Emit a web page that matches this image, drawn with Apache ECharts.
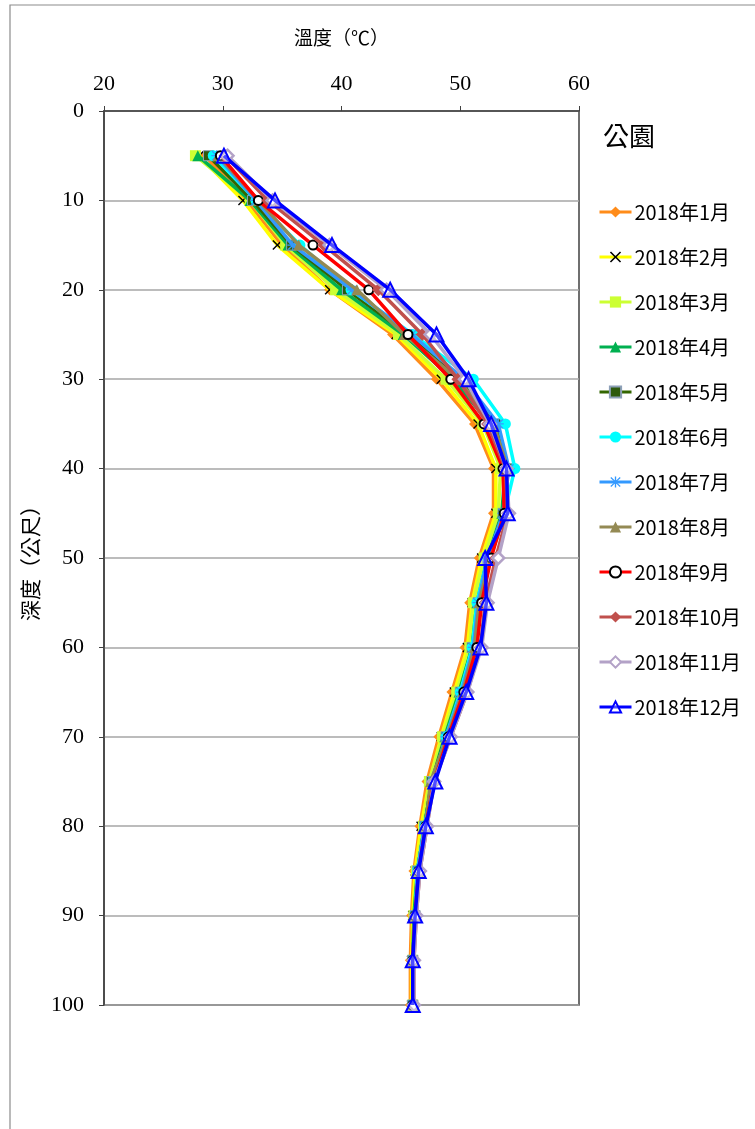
<!DOCTYPE html>
<html><head><meta charset="utf-8">
<script src="https://cdn.jsdelivr.net/npm/echarts@6/dist/echarts.min.js"></script>
<style>html,body{margin:0;padding:0;background:#fff}#c{width:755px;height:1129px}</style>
</head><body><div id="c"></div>
<script>
const depths = [5,10,15,20,25,30,35,40,45,50,55,60,65,70,75,80,85,90,95,100];
const seriesNames = ['2018年1月','2018年2月','2018年3月','2018年4月','2018年5月','2018年6月','2018年7月','2018年8月','2018年9月','2018年10月','2018年11月','2018年12月'];
const jan = [28.5,32.0,35.0,39.0,44.3,48.0,51.2,52.8,52.8,51.6,50.8,50.4,49.3,48.2,47.2,46.6,46.1,45.9,45.8,45.8];
const feb = [28.0,31.7,34.6,39.0,44.6,48.4,51.5,53.0,53.0,51.8,51.0,50.6,49.5,48.4,47.4,46.7,46.2,46.0,45.9,45.9];
const mar = [27.7,32.3,35.3,39.5,44.8,48.8,51.9,53.4,53.2,52.0,51.1,50.8,49.7,48.5,47.4,46.9,46.3,46.1,46.0,46.0];
const apr = [27.9,32.3,35.5,40.0,45.2,49.4,52.5,53.8,53.5,52.3,51.4,51.0,49.9,48.7,47.6,47.0,46.4,46.1,46.0,46.0];
const may = [28.8,32.5,35.8,40.5,45.6,49.9,53.0,54.0,53.6,52.3,51.5,51.0,50.0,48.8,47.6,47.0,46.4,46.2,46.0,46.0];
const jun = [29.2,32.8,36.5,40.8,46.0,51.1,53.8,54.6,53.7,52.3,51.4,51.0,50.0,48.8,47.7,47.0,46.4,46.2,46.0,46.0];
const jul = [29.5,32.8,35.9,40.9,45.9,50.3,53.2,54.1,53.6,52.3,51.5,51.1,50.1,48.8,47.7,47.0,46.4,46.2,46.0,46.0];
const aug = [29.6,33.0,36.4,41.3,45.3,49.8,52.8,54.0,53.8,52.5,51.6,51.2,50.2,48.9,47.5,47.1,46.5,46.2,46.0,46.0];
const sep = [29.8,33.0,37.6,42.3,45.6,49.2,52.0,53.6,53.7,52.6,51.8,51.4,50.3,49.0,47.8,47.1,46.5,46.2,46.0,46.0];
const oct = [30.2,33.8,38.5,43.1,46.8,49.8,52.3,53.8,54.0,53.0,52.1,51.7,50.6,49.2,47.8,47.2,46.6,46.3,46.1,46.1];
const nov = [30.4,34.2,39.0,43.8,47.5,50.4,52.5,53.9,54.1,53.2,52.3,51.8,50.6,49.2,47.8,47.2,46.6,46.3,46.1,46.1];
const dec = [30.1,34.4,39.2,44.1,48.0,50.7,52.6,53.9,54.0,52.1,52.2,51.7,50.5,49.1,47.9,47.1,46.5,46.2,46.0,46.0];
const xTicks = [20,30,40,50,60];
const yTicks = [0,10,20,30,40,50,60,70,80,90,100];

const allValues = [jan,feb,mar,apr,may,jun,jul,aug,sep,oct,nov,dec];
const X = 'path://M0,1L1,0L5,4L9,0L10,1L6,5L10,9L9,10L5,6L1,10L0,9L4,5Z';
const STAR = 'path://M4.4,0H5.6V3.6L8.8,0.6L9.6,1.4L6.4,4.4H10V5.6H6.4L9.6,8.6L8.8,9.4L5.6,6.4V10H4.4V6.4L1.2,9.4L0.4,8.6L3.6,5.6H0V4.4H3.6L0.4,1.4L1.2,0.6L4.4,3.6Z';
const styles = [
  {line:'#FF8C1A', sym:'diamond', size:11, fill:'#FF8C1A', border:'#FF8C1A', bw:0},
  {line:'#FFFF00', sym:X, size:10, fill:'#000', border:'#000', bw:0},
  {line:'#CCFF33', sym:'rect', size:11, fill:'#CCFF33', border:'#CCFF33', bw:0},
  {line:'#00B050', sym:'triangle', size:11, fill:'#00B050', border:'#00B050', bw:0},
  {line:'#336600', sym:'rect', size:10, fill:'#2E5A0E', border:'#8DA0B8', bw:1},
  {line:'#00FFFF', sym:'circle', size:11, fill:'#00FFFF', border:'#00FFFF', bw:0},
  {line:'#3399FF', sym:STAR, size:11, fill:'#3399FF', border:'#3399FF', bw:0},
  {line:'#948A54', sym:'triangle', size:11, fill:'#948A54', border:'#948A54', bw:0},
  {line:'#FF0000', sym:'circle', size:9, fill:'#fff', border:'#000', bw:2},
  {line:'#C0504D', sym:'diamond', size:13, fill:'#C0504D', border:'#C0504D', bw:0},
  {line:'#B3A2C7', sym:'diamond', size:12, fill:'#fff', border:'#B3A2C7', bw:2.5},
  {line:'#0000FF', sym:'triangle', size:14, fill:'rgba(255,255,255,0.3)', border:'#0000FF', bw:2}
];

const series = seriesNames.map((n,i)=>({
  name:n, type:'line', data: depths.map((d,j)=>[allValues[i][j], d]),
  symbol: styles[i].sym, symbolSize: styles[i].size,
  lineStyle:{color:styles[i].line, width:3.5},
  itemStyle:{color:styles[i].fill, borderColor:styles[i].border, borderWidth:styles[i].bw},
  color: styles[i].line,
  emphasis:{disabled:true}, animation:false, z: 2+i
}));

const chart = echarts.init(document.getElementById('c'), null, {renderer:'canvas'});
chart.setOption({
  animation:false,
  backgroundColor:'#fff',
  title:{text:'公園', left:603, top:123, padding:0, textStyle:{fontFamily:'Noto Sans CJK TC', fontSize:26, fontWeight:'normal', color:'#000'}},
  grid:{left:104, top:111, width:475, height:894, show:true, borderColor:'#404040', borderWidth:1.5, backgroundColor:'transparent'},
  graphic:[{type:'rect', shape:{x:10, y:5, width:800, height:1200}, style:{fill:'none', stroke:'#8c8c8c', lineWidth:1.2}, z:-1}],
  legend:{
    orient:'vertical', left:598, top:202, padding:0, itemWidth:32, itemHeight:14, itemGap:25,
    data: seriesNames,
    lineStyle:{width:3},
    textStyle:{fontFamily:'Noto Sans CJK TC', fontSize:20, color:'#000', padding:[0,0,0,-2]}
  },
  xAxis:{
    type:'value', position:'top', min:20, max:60, interval:10,
    name:'溫度（℃）', nameLocation:'middle', nameGap:64,
    nameTextStyle:{fontFamily:'Noto Sans CJK TC', fontSize:19, color:'#000'},
    axisLine:{show:true, onZero:false, lineStyle:{color:'#404040', width:1.5}},
    axisTick:{show:true, inside:false, length:5, lineStyle:{color:'#404040'}},
    axisLabel:{margin:16, fontFamily:'Liberation Serif', fontSize:22, color:'#000', formatter:v=>xTicks.includes(v)?String(v):''},
    splitLine:{show:false}
  },
  yAxis:{
    type:'value', inverse:true, min:0, max:100, interval:10,
    name:'深度（公尺）', nameLocation:'middle', nameGap:62, nameRotate:90,
    nameTextStyle:{fontFamily:'Noto Sans CJK TC', fontSize:21, color:'#000'},
    axisLine:{show:true, onZero:false, lineStyle:{color:'#404040', width:1.5}},
    axisTick:{show:true, inside:false, length:5, lineStyle:{color:'#404040'}},
    axisLabel:{margin:20, fontFamily:'Liberation Serif', fontSize:22, color:'#000', formatter:v=>yTicks.includes(v)?String(v):''},
    splitLine:{show:true, lineStyle:{color:'#A6A6A6', width:1.5}}
  },
  series: series
});
</script></body></html>
